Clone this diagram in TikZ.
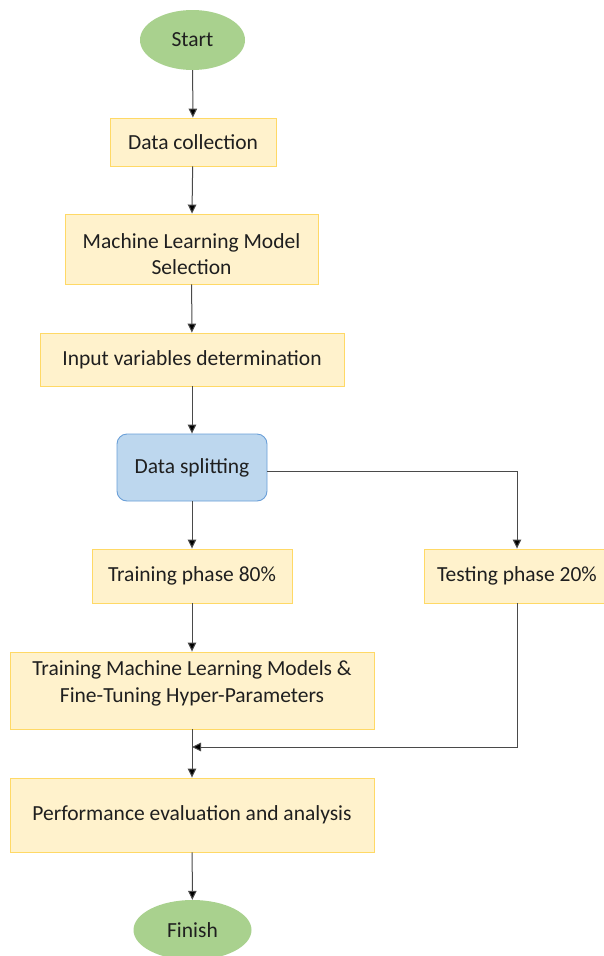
\documentclass[tikz,border=0pt]{standalone}
\usepackage{fontspec}
\setmainfont{Carlito}
\usetikzlibrary{arrows.meta,shapes.geometric}
\definecolor{boxfill}{HTML}{FFF2CC}
\definecolor{boxline}{HTML}{FFD966}
\definecolor{termfill}{HTML}{A9D18E}
\definecolor{splitfill}{HTML}{BDD7EE}
\definecolor{splitline}{HTML}{6A9FD8}
\definecolor{wire}{HTML}{4A4A4A}
\tikzset{
  x=1pt, y=1pt,
  every node/.style={font=\fontsize{21.5}{26.5}\selectfont, text=black!88},
  procbox/.style={rectangle, draw=boxline, fill=boxfill, line width=0.9pt, inner sep=0pt},
  terminal/.style={ellipse, fill=termfill, draw=none, inner sep=0pt},
  splitbox/.style={rectangle, rounded corners=10pt, draw=splitline, fill=splitfill, line width=0.9pt, inner sep=0pt},
  plain/.style={inner sep=0pt, align=center},
  flow/.style={draw=wire, line width=1pt, -{Triangle[length=9pt,width=8.5pt,fill=black]}},
}
\begin{document}
\begin{tikzpicture}
\useasboundingbox (0,0) rectangle (603,-956);
\fill[white] (0,0) rectangle (603,-956);

% terminals
\node[terminal, minimum width=105, minimum height=60] (start) at (192.5,-40) {Start};
\node[terminal, minimum width=118, minimum height=60] (finish) at (192.5,-930) {Finish};

% process boxes
\node[procbox, minimum width=166, minimum height=48] (collect) at (193,-142) {Data collection};
\node[procbox, minimum width=253, minimum height=70] (select) at (191.5,-249) {};
\node[plain] (selecttext) at (191.5,-254) {Machine Learning Model\\Selection};
\node[procbox, minimum width=304, minimum height=53] (input) at (192,-359.5) {Input variables determination};
\node[splitbox, minimum width=150, minimum height=67] (split) at (192,-467.5) {Data splitting};
\node[procbox, minimum width=200, minimum height=54] (train) at (192,-576) {Training phase 80\%};
\node[procbox, minimum width=186, minimum height=54] (test) at (517,-576) {Testing phase 20\%};
\node[procbox, minimum width=364, minimum height=77] (models) at (192,-690.5) {};
\node[plain] (modelstext) at (192,-683.5) {Training Machine Learning Models \&\\Fine-Tuning Hyper-Parameters};
\node[procbox, minimum width=364, minimum height=74] (perf) at (192,-815) {Performance evaluation and analysis};

% merge point of the testing branch
\coordinate (merge) at (192,-747);

% connectors
\draw[flow] (start) -- (collect);
\draw[flow] (collect) -- (select);
\draw[flow] (select) -- (input);
\draw[flow] (input) -- (split);
\draw[flow] (split) -- (train);
\draw[flow] ([yshift=-3.5pt]split.east) -| (test.north);
\draw[flow] (train) -- (models);
\draw[flow] (models) -- (perf);
\draw[flow] (test.south) |- (merge);
\draw[flow] (perf) -- (finish);
\end{tikzpicture}
\end{document}
